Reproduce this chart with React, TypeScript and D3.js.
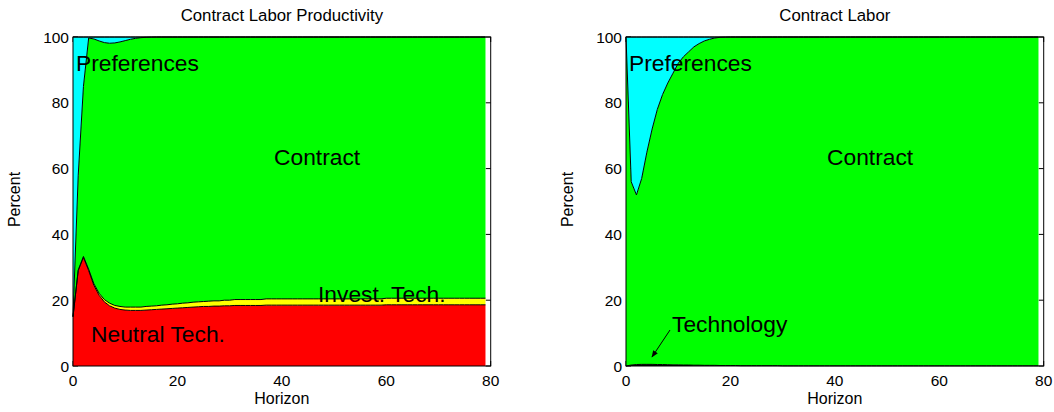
import React from "react";
import * as d3 from "d3";

const horizon = d3.range(80);

// Left panel: Contract Labor Productivity (percent)
const leftNeutral = [15, 29, 33, 29, 24.5, 21.5, 19.5, 18.3, 17.6, 17.2,
  17.0, 16.9, 16.9, 16.9, 17.0, 17.1, 17.2, 17.3, 17.4, 17.5,
  17.6, 17.7, 17.8, 17.9, 18.0, 18.1, 18.1, 18.2, 18.2, 18.3,
  18.3, 18.4, 18.4, 18.4, 18.4, 18.4, 18.4, 18.5, 18.5, 18.5,
  18.5, 18.5, 18.5, 18.5, 18.5, 18.5, 18.5, 18.5, 18.5, 18.5,
  18.5, 18.5, 18.5, 18.5, 18.5, 18.5, 18.5, 18.5, 18.5, 18.5,
  18.6, 18.6, 18.6, 18.6, 18.6, 18.6, 18.6, 18.6, 18.6, 18.6,
  18.6, 18.6, 18.6, 18.6, 18.6, 18.6, 18.6, 18.6, 18.6, 18.6];
const leftInvest = [0, 0.2, 0.3, 0.4, 0.5, 0.6, 0.7, 0.8, 0.8, 0.9,
  0.9, 1.0, 1.0, 1.0, 1.1, 1.1, 1.1, 1.2, 1.2, 1.3,
  1.3, 1.4, 1.4, 1.5, 1.5, 1.5, 1.6, 1.6, 1.6, 1.7,
  1.7, 1.8, 1.8, 1.8, 1.8, 1.8, 1.8, 1.9, 1.9, 1.9,
  1.9, 1.9, 1.9, 1.9, 1.9, 1.9, 1.9, 1.9, 1.9, 1.9,
  1.9, 1.9, 1.9, 1.9, 1.9, 1.9, 1.9, 1.9, 1.9, 1.9,
  2.0, 2.0, 2.0, 2.0, 2.0, 2.0, 2.0, 2.0, 2.0, 2.0,
  2.0, 2.0, 2.0, 2.0, 2.0, 2.0, 2.0, 2.0, 2.0, 2.0];
const leftContract = [0, 28.8, 51.7, 70.3, 74.4, 76.7, 78.1, 79.0, 79.8, 80.4,
  81.0, 81.4, 81.7, 81.9, 81.8, 81.75, 81.7, 81.5, 81.4, 81.2,
  81.1, 80.9, 80.8, 80.6, 80.5, 80.4, 80.3, 80.2, 80.2, 80.0,
  80.0, 79.8, 79.8, 79.8, 79.8, 79.8, 79.8, 79.6, 79.6, 79.6,
  79.6, 79.6, 79.6, 79.6, 79.6, 79.6, 79.6, 79.6, 79.6, 79.6,
  79.6, 79.6, 79.6, 79.6, 79.6, 79.6, 79.6, 79.6, 79.6, 79.6,
  79.4, 79.4, 79.4, 79.4, 79.4, 79.4, 79.4, 79.4, 79.4, 79.4,
  79.4, 79.4, 79.4, 79.4, 79.4, 79.4, 79.4, 79.4, 79.4, 79.4];
const leftPreferences = [85, 42, 15, 0.3, 0.6, 1.2, 1.7, 1.9, 1.8, 1.5,
  1.1, 0.7, 0.4, 0.2, 0.1, 0.05, 0, 0, 0, 0,
  0, 0, 0, 0, 0, 0, 0, 0, 0, 0,
  0, 0, 0, 0, 0, 0, 0, 0, 0, 0,
  0, 0, 0, 0, 0, 0, 0, 0, 0, 0,
  0, 0, 0, 0, 0, 0, 0, 0, 0, 0,
  0, 0, 0, 0, 0, 0, 0, 0, 0, 0,
  0, 0, 0, 0, 0, 0, 0, 0, 0, 0];

// Right panel: Contract Labor (percent)
const rightTechnology = [0, 0.3, 0.45, 0.5, 0.5, 0.5, 0.45, 0.45, 0.4, 0.35,
  0.35, 0.3, 0.3, 0.25, 0.25, 0.2, 0.2, 0.2, 0.15, 0.15,
  0.15, 0.15, 0.1, 0.1, 0.1, 0.1, 0.1, 0.1, 0.1, 0.1,
  0.05, 0.05, 0.05, 0.05, 0.05, 0.05, 0.05, 0.05, 0.05, 0.05,
  0.05, 0.05, 0.05, 0.05, 0.05, 0.05, 0.05, 0.05, 0.05, 0.05,
  0.05, 0.05, 0.05, 0.05, 0.05, 0.05, 0.05, 0.05, 0.05, 0.05,
  0.05, 0.05, 0.05, 0.05, 0.05, 0.05, 0.05, 0.05, 0.05, 0.05,
  0.05, 0.05, 0.05, 0.05, 0.05, 0.05, 0.05, 0.05, 0.05, 0.05];
const rightContract = [100, 55.7, 51.55, 56.5, 64.5, 71.5, 77.55, 82.05, 85.6, 88.65,
  91.65, 93.7, 95.2, 96.75, 97.75, 98.6, 99.1, 99.5, 99.75, 99.8,
  99.85, 99.85, 99.9, 99.9, 99.9, 99.9, 99.9, 99.9, 99.9, 99.9,
  99.95, 99.95, 99.95, 99.95, 99.95, 99.95, 99.95, 99.95, 99.95, 99.95,
  99.95, 99.95, 99.95, 99.95, 99.95, 99.95, 99.95, 99.95, 99.95, 99.95,
  99.95, 99.95, 99.95, 99.95, 99.95, 99.95, 99.95, 99.95, 99.95, 99.95,
  99.95, 99.95, 99.95, 99.95, 99.95, 99.95, 99.95, 99.95, 99.95, 99.95,
  99.95, 99.95, 99.95, 99.95, 99.95, 99.95, 99.95, 99.95, 99.95, 99.95];
const rightPreferences = [0, 44, 48, 43, 35, 28, 22, 17.5, 14, 11,
  8, 6, 4.5, 3, 2, 1.2, 0.7, 0.3, 0.1, 0.05,
  0, 0, 0, 0, 0, 0, 0, 0, 0, 0,
  0, 0, 0, 0, 0, 0, 0, 0, 0, 0,
  0, 0, 0, 0, 0, 0, 0, 0, 0, 0,
  0, 0, 0, 0, 0, 0, 0, 0, 0, 0,
  0, 0, 0, 0, 0, 0, 0, 0, 0, 0,
  0, 0, 0, 0, 0, 0, 0, 0, 0, 0];

const xTicks = [0, 20, 40, 60, 80];
const yTicks = [0, 20, 40, 60, 80, 100];

const FONT = "'Liberation Sans', Arial, Helvetica, sans-serif";

type Series = { name: string; values: number[]; color: string };
type Label = { text: string; x: number; y: number };

function Panel({ left, title, series, labels, arrow }: {
  left: number; title: string; series: Series[]; labels: Label[];
  arrow?: { x1: number; y1: number; x2: number; y2: number };
}) {
  const top = 37, bottom = 366, width = 417.7;
  const x = d3.scaleLinear().domain([0, 80]).range([left, left + width]);
  const y = d3.scaleLinear().domain([0, 100]).range([bottom, top]);
  const rows = horizon.map((h, i) => {
    const r: any = { h };
    series.forEach((s) => (r[s.name] = s.values[i]));
    return r;
  });
  const stacked = d3.stack<any>().keys(series.map((s) => s.name))(rows);
  const area = d3.area<any>().x((d) => x(d.data.h)).y0((d) => y(d[0])).y1((d) => y(d[1]));
  const line = d3.line<any>().x((d) => x(d.data.h)).y((d) => y(d[1]));
  const tl = 5;
  return (
    <g fontFamily={FONT}>
      <text x={(left + left + width) / 2} y={21} textAnchor="middle" fontSize={16.8}>{title}</text>
      {yTicks.map((t) => (
        <g key={"y" + t}>
          <line x1={left} x2={left + tl} y1={y(t)} y2={y(t)} stroke="#000" />
          <line x1={left + width - tl} x2={left + width} y1={y(t)} y2={y(t)} stroke="#000" />
        </g>
      ))}
      {xTicks.map((t) => (
        <g key={"x" + t}>
          <line x1={x(t)} x2={x(t)} y1={bottom} y2={bottom - tl} stroke="#000" />
          <line x1={x(t)} x2={x(t)} y1={top} y2={top + tl} stroke="#000" />
        </g>
      ))}
      {stacked.map((layer, i) => (
        <path key={"a" + i} d={area(layer) as string} fill={series[i].color} stroke="none" />
      ))}
      {stacked.map((layer, i) => (
        <path key={"l" + i} d={line(layer) as string} fill="none" stroke="#000" strokeWidth={1} />
      ))}
      <rect x={left} y={top} width={width} height={bottom - top} fill="none" stroke="#000" strokeWidth={1} />
      {yTicks.map((t) => (
        <text key={"yl" + t} x={left - 4} y={y(t) + 5.5} textAnchor="end" fontSize={15.5}>{t}</text>
      ))}
      {xTicks.map((t) => (
        <text key={"xl" + t} x={x(t)} y={386} textAnchor="middle" fontSize={15.5}>{t}</text>
      ))}
      <text x={(left + left + width) / 2} y={404} textAnchor="middle" fontSize={16}>Horizon</text>
      <text transform={`translate(${left - 53},${(top + bottom) / 2 - 2}) rotate(-90)`} textAnchor="middle" fontSize={16}>Percent</text>
      {labels.map((l) => (
        <text key={l.text} x={l.x} y={l.y} fontSize={22.8}>{l.text}</text>
      ))}
      {arrow && (
        <line x1={arrow.x1} y1={arrow.y1} x2={arrow.x2} y2={arrow.y2} stroke="#000" strokeWidth={1} markerEnd="url(#arrowhead)" />
      )}
    </g>
  );
}

export default function App() {
  return (
    <svg width={1054} height={412} style={{ position: "absolute", left: 0, top: 0, background: "#fff" }}>
      <defs>
        <marker id="arrowhead" viewBox="0 0 10 10" refX={9} refY={5} markerWidth={7} markerHeight={7} orient="auto">
          <path d="M0,1 L10,5 L0,9 z" fill="#000" />
        </marker>
      </defs>
      <rect width={1054} height={412} fill="#fff" />
      <Panel
        left={73}
        title="Contract Labor Productivity"
        series={[
          { name: "Neutral Tech.", values: leftNeutral, color: "#ff0000" },
          { name: "Invest. Tech.", values: leftInvest, color: "#ffff00" },
          { name: "Contract", values: leftContract, color: "#00ff00" },
          { name: "Preferences", values: leftPreferences, color: "#00ffff" },
        ]}
        labels={[
          { text: "Preferences", x: 76, y: 71 },
          { text: "Contract", x: 274, y: 165 },
          { text: "Invest. Tech.", x: 318, y: 302 },
          { text: "Neutral Tech.", x: 91, y: 342 },
        ]}
      />
      <Panel
        left={626}
        title="Contract Labor"
        series={[
          { name: "Technology", values: rightTechnology, color: "#000000" },
          { name: "Contract", values: rightContract, color: "#00ff00" },
          { name: "Preferences", values: rightPreferences, color: "#00ffff" },
        ]}
        labels={[
          { text: "Preferences", x: 629, y: 71 },
          { text: "Contract", x: 827, y: 165 },
          { text: "Technology", x: 672, y: 332 },
        ]}
        arrow={{ x1: 670, y1: 330, x2: 652, y2: 357 }}
      />
    </svg>
  );
}
